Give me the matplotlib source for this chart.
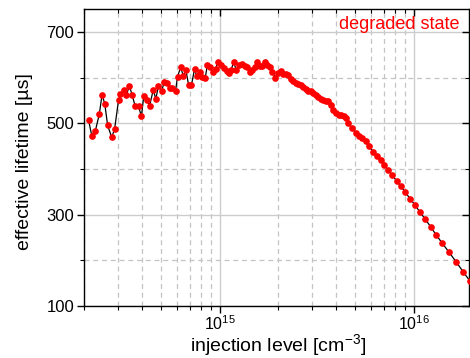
import matplotlib

matplotlib.use("Agg")
import matplotlib.lines as mlines
import matplotlib.pyplot as plt
import numpy as np
from matplotlib.ticker import FixedLocator, LogLocator, NullFormatter

plt.rcParams["font.family"] = ["Liberation Sans", "DejaVu Sans"]
plt.rcParams["mathtext.fontset"] = "custom"
plt.rcParams["mathtext.rm"] = "Liberation Sans"
plt.rcParams["mathtext.it"] = "Liberation Sans:italic"

# injection level, log10 of cm^-3
log_injection = [
    14.325, 14.341, 14.360, 14.380, 14.394, 14.408, 14.423, 14.444, 14.459, 14.479,
    14.489, 14.506, 14.520, 14.535, 14.549, 14.565, 14.582, 14.597, 14.609, 14.628,
    14.639, 14.658, 14.671, 14.685, 14.701, 14.715, 14.728, 14.742, 14.757, 14.773,
    14.783, 14.799, 14.813, 14.826, 14.840, 14.855, 14.871, 14.881, 14.897, 14.911,
    14.926, 14.937, 14.952, 14.965, 14.979, 14.993, 15.007, 15.021, 15.036, 15.048,
    15.060, 15.072, 15.086, 15.100, 15.115, 15.129, 15.141, 15.155, 15.169, 15.182,
    15.193, 15.207, 15.220,
    15.232, 15.244, 15.258, 15.272, 15.288, 15.301, 15.315, 15.327, 15.341, 15.355,
    15.367, 15.378, 15.392, 15.406, 15.418, 15.432, 15.444, 15.456, 15.470, 15.482,
    15.496, 15.507, 15.521, 15.533, 15.546, 15.558, 15.572, 15.585, 15.599, 15.613,
    15.628, 15.640, 15.652, 15.664, 15.681, 15.701, 15.718, 15.735, 15.752, 15.769,
    15.791, 15.809, 15.830, 15.848, 15.869, 15.890, 15.912, 15.934, 15.957, 15.981,
    16.007, 16.033, 16.060, 16.088, 16.117, 16.148, 16.182, 16.218, 16.255, 16.291,
]

# effective lifetime [us]
lifetime = [
    506, 473, 484, 520, 562, 543, 495, 469, 488, 550,
    563, 572, 562, 582, 562, 537, 537, 515, 559, 550,
    538, 573, 553, 582, 571, 590, 589, 578, 578, 571,
    602, 622, 604, 617, 584, 584, 619, 604, 611, 602,
    600, 627, 622, 611, 619, 635, 628, 620, 614, 609,
    617, 634, 616, 627, 630, 625, 623, 612, 617, 624,
    635, 625, 625,
    633, 628, 622, 612, 600, 610, 615, 608, 607, 605,
    596, 592, 587, 585, 583, 579, 575, 571, 570, 567,
    561, 557, 554, 550, 548, 548, 539, 528, 522, 517,
    517, 515, 511, 500, 490, 479, 473, 467, 460, 450,
    438, 429, 419, 408, 397, 386, 374, 362, 349, 335,
    321, 305, 290, 273, 255, 237, 218, 197, 175, 154,
]

x = 10 ** np.array(log_injection)
y = np.array(lifetime)

fig = plt.figure(figsize=(4.70, 3.58), dpi=100)
ax = fig.add_axes([0.1787, 0.1453, 0.8193, 0.8296])

ax.plot(x, y, "-", color="black", lw=0.9, zorder=3)
ax.plot(x, y, "o", color="red", ms=3.8, mec="red", zorder=4)

ax.set_xscale("log")
ax.set_xlim(2e14, 1.93e16)
ax.set_ylim(100, 750)

ax.xaxis.set_major_locator(LogLocator(base=10))
ax.xaxis.set_minor_locator(LogLocator(base=10, subs=np.arange(2, 10)))
ax.xaxis.set_minor_formatter(NullFormatter())
ax.yaxis.set_major_locator(FixedLocator([100, 300, 500, 700]))
ax.yaxis.set_minor_locator(FixedLocator([200, 400, 600]))

ax.grid(which="major", color="#cccccc", lw=1.0, ls="-", zorder=0)
ax.grid(which="minor", color="#c4c4c4", lw=0.9, ls=(0, (4, 3)), zorder=0)
ax.set_axisbelow(True)

for s in ax.spines.values():
    s.set_color("black")
    s.set_linewidth(1.0)

ax.tick_params(axis="both", which="major", direction="out", length=5, width=1,
               labelsize=12, colors="black")
ax.tick_params(axis="both", which="minor", direction="out", length=3, width=0.8)
ax.tick_params(axis="x", which="both", top=True, pad=1, labelsize=11.5)
ax.tick_params(axis="y", which="both", right=True, pad=2)

# ticks on top and right point inward
for t in ax.xaxis.get_major_ticks() + ax.xaxis.get_minor_ticks():
    t.tick2line.set_marker(mlines.TICKDOWN)
for t in ax.yaxis.get_major_ticks() + ax.yaxis.get_minor_ticks():
    t.tick2line.set_marker(mlines.TICKLEFT)

# axis titles placed by hand so the mathtext superscript does not push them off
fig.text(278 / 470, 1 - 351 / 358, "injection level [cm$^{-3}$]", fontsize=14,
         ha="center", va="baseline")
fig.text(25 / 470, 1 - 162 / 358, "effective lifetime [µs]", fontsize=14,
         ha="center", va="center", rotation=90)

ax.text(0.974, 0.975, "degraded state", color="red", fontsize=13,
        ha="right", va="top", transform=ax.transAxes)

fig.savefig("out.png", dpi=100)
